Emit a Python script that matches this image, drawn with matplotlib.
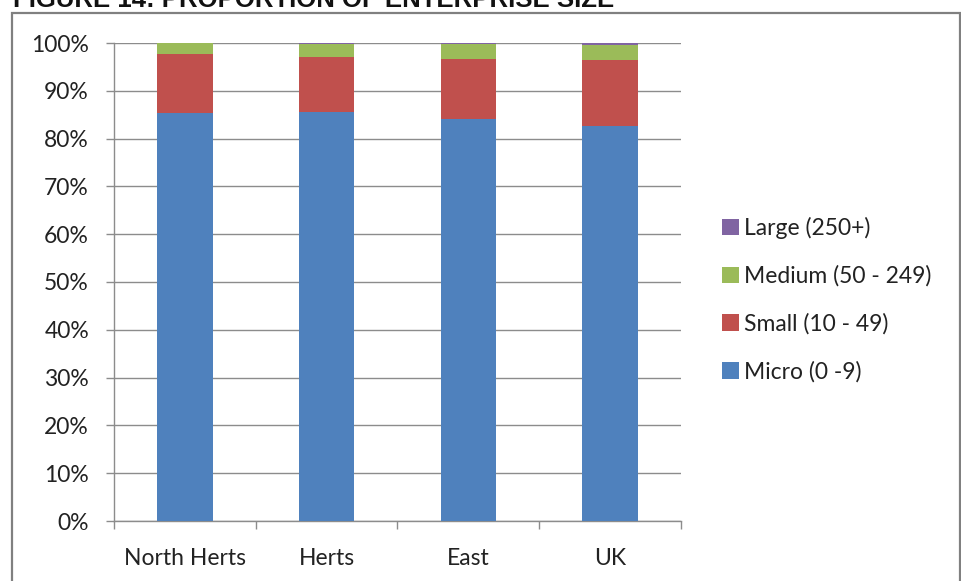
import matplotlib
matplotlib.use("Agg")
import matplotlib.pyplot as plt
from matplotlib.patches import Rectangle, Patch
from matplotlib.ticker import FixedLocator, PercentFormatter

categories = ["North Herts", "Herts", "East", "UK"]
micro = [85.4, 85.6, 84.0, 82.7]
small = [12.4, 11.4, 12.6, 13.7]
medium = [2.1, 2.7, 3.1, 3.2]
large = [0.1, 0.3, 0.3, 0.4]
series_names = ["Micro (0 -9)", "Small (10 - 49)", "Medium (50 - 249)", "Large (250+)"]
series_colors = ["#4F81BD", "#C0504D", "#9BBB59", "#8064A2"]
yticks = [0, 10, 20, 30, 40, 50, 60, 70, 80, 90, 100]
title = "FIGURE 14: PROPORTION OF ENTERPRISE SIZE"

W, H = 962, 581
fig = plt.figure(figsize=(W / 100, H / 100), dpi=100)
font = "Lato"
gray = "#8C8C8C"
fs = 16.5

ax = fig.add_axes([114 / W, 1 - 521 / H, (681 - 114) / W, (521 - 43) / H])
x = list(range(len(categories)))
bottom = [0.0] * len(categories)
handles = []
for vals, name, col in zip([micro, small, medium, large], series_names, series_colors):
    ax.bar(x, vals, width=0.39, bottom=bottom, color=col, zorder=3, linewidth=0)
    bottom = [b + v for b, v in zip(bottom, vals)]
    handles.append(Patch(facecolor=col, edgecolor="none", label=name))

ax.set_xlim(-0.5, len(categories) - 0.5)
ax.set_ylim(0, 100)
ax.set_yticks(yticks)
ax.yaxis.set_major_formatter(PercentFormatter(decimals=0))
ax.grid(axis="y", color=gray, linewidth=1.0, zorder=0)
ax.set_axisbelow(True)
ax.set_xticks(x)
ax.set_xticklabels(categories)
ax.xaxis.set_minor_locator(FixedLocator([i - 0.5 for i in range(len(categories) + 1)]))
ax.tick_params(axis="x", which="major", length=0, pad=19.5, labelsize=fs, labelcolor="#222222")
ax.tick_params(axis="x", which="minor", length=6, color=gray, width=1)
ax.tick_params(axis="y", length=6, color=gray, width=1, pad=12, labelsize=fs, labelcolor="#222222")
for lab in ax.get_xticklabels() + ax.get_yticklabels():
    lab.set_fontfamily(font)
for s in ["top", "right"]:
    ax.spines[s].set_visible(False)
for s in ["left", "bottom"]:
    ax.spines[s].set_color(gray)
    ax.spines[s].set_linewidth(1.0)

leg = fig.legend(handles=handles[::-1], loc="upper left",
                 bbox_to_anchor=(722 / W, 1 - 217 / H),
                 frameon=False, prop={"family": font, "size": fs},
                 handlelength=0.75, handleheight=0.75, handletextpad=0.2,
                 labelspacing=1.15, borderpad=0, borderaxespad=0,
                 labelcolor="#222222")

# outer frame
fig.add_artist(Rectangle((12 / W, -0.02), (960 - 12) / W, 1.02 - 13 / H,
                         transform=fig.transFigure, fill=False,
                         edgecolor="#808080", linewidth=1.6))

# title (clipped at the top edge, as in the reference)
t = fig.text(13 / W, 1 - 7 / H, title, fontfamily="Liberation Sans",
             fontweight="bold", fontsize=20, va="baseline", ha="left", color="#111111")
fig.canvas.draw()
bb = t.get_window_extent()
t.set_fontsize(20 * 600 / bb.width)

fig.savefig("out.png", dpi=100)
